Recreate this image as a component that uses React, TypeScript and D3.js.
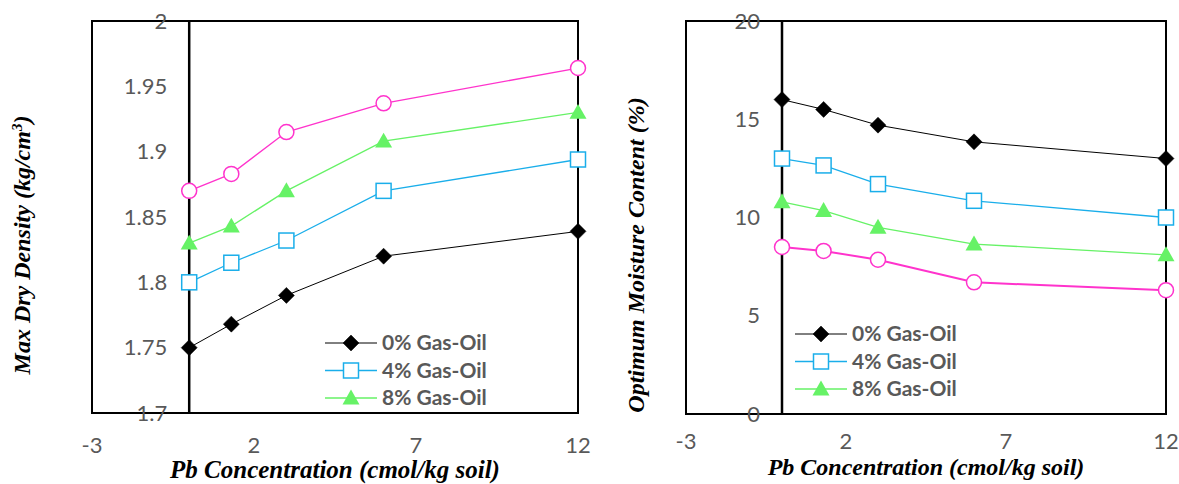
import React from "react";
import * as d3 from "d3";

const pbConcentration = [0, 1.3, 3, 6, 12];

const seriesNames = ["0% Gas-Oil", "4% Gas-Oil", "8% Gas-Oil", "12% Gas-Oil"];
const seriesColors = ["#000000", "#1AAEEA", "#66F266", "#FF33CC"];
const seriesMarkers = ["diamond", "square", "triangle", "circle"];
const legendSeries = [0, 1, 2];

// Max dry density (kg/cm3)
const mddValues = [
  [1.75, 1.768, 1.79, 1.82, 1.839],
  [1.8, 1.815, 1.832, 1.87, 1.894],
  [1.83, 1.843, 1.87, 1.908, 1.93],
  [1.87, 1.883, 1.915, 1.937, 1.964],
];

// Optimum moisture content (%)
const omcValues = [
  [16, 15.5, 14.7, 13.85, 13],
  [13, 12.65, 11.7, 10.85, 10],
  [10.8, 10.35, 9.5, 8.65, 8.1],
  [8.5, 8.3, 7.85, 6.7, 6.3],
];

const xTicks = [-3, 2, 7, 12];
const mddTicks = [1.7, 1.75, 1.8, 1.85, 1.9, 1.95, 2];
const omcTicks = [0, 5, 10, 15, 20];
const mddTickLabels = ["1.7", "1.75", "1.8", "1.85", "1.9", "1.95", "2"];
const omcTickLabels = ["0", "5", "10", "15", "20"];

const xTitle = "Pb Concentration (cmol/kg soil)";

type PanelProps = {
  left: number;
  right: number;
  top: number;
  bottom: number;
  yDomain: [number, number];
  yTicks: number[];
  yTickLabels: string[];
  values: number[][];
  yTitle: React.ReactNode;
  yTitleX: number;
  yTitleY: number;
  xTickY: number;
  xTitleY: number;
  xTitleSize: number;
  legendX: number;
  legendY: number;
  magentaWidth: number;
};

function Marker({ type, x, y, color }: { type: string; x: number; y: number; color: string }) {
  if (type === "diamond") {
    const s = 8;
    return <path d={`M${x},${y - s}L${x + s},${y}L${x},${y + s}L${x - s},${y}Z`} fill={color} stroke={color} strokeWidth={0.5} />;
  }
  if (type === "square") {
    const s = 7.5;
    return <rect x={x - s} y={y - s} width={2 * s} height={2 * s} fill="#fff" stroke={color} strokeWidth={1.5} />;
  }
  if (type === "triangle") {
    const s = 8.5;
    return <path d={`M${x},${y - s}L${x + s},${y + s * 0.75}L${x - s},${y + s * 0.75}Z`} fill={color} />;
  }
  return <circle cx={x} cy={y} r={7.5} fill="#fff" stroke={color} strokeWidth={1.5} />;
}

function Panel(p: PanelProps) {
  const x = d3.scaleLinear().domain([-3, 12]).range([p.left, p.right]);
  const y = d3.scaleLinear().domain(p.yDomain).range([p.bottom, p.top]);
  const x0 = x(0);
  const tickFont = "Lato, 'Open Sans', sans-serif";
  const titleFont = "'Liberation Serif', 'Times New Roman', serif";
  const order = [3, 2, 1, 0];
  return (
    <g>
      <rect x={p.left} y={p.top} width={p.right - p.left} height={p.bottom - p.top} fill="none" stroke="#000" strokeWidth={2} />
      <line x1={x0} x2={x0} y1={p.top} y2={p.bottom} stroke="#000" strokeWidth={2.5} />
      {order.map((si) => {
        const line = d3
          .line<number>()
          .x((_, i) => x(pbConcentration[i]))
          .y((v) => y(v));
        return (
          <g key={si}>
            <path d={line(p.values[si]) || ""} fill="none" stroke={seriesColors[si]} strokeWidth={si === 3 ? p.magentaWidth : si === 0 ? 1 : 1.3} />
            {p.values[si].map((v, i) => (
              <Marker key={i} type={seriesMarkers[si]} x={x(pbConcentration[i])} y={y(v)} color={seriesColors[si]} />
            ))}
          </g>
        );
      })}
      {p.yTicks.map((t, i) => (
        <text key={t} x={x0 - 22} y={y(t)} dy="0.35em" textAnchor="end" fontFamily={tickFont} fontSize={22} fill="#595959">
          {p.yTickLabels[i]}
        </text>
      ))}
      {xTicks.map((t) => (
        <text key={t} x={x(t)} y={p.xTickY} dy="0.35em" textAnchor="middle" fontFamily={tickFont} fontSize={22} fill="#595959">
          {t}
        </text>
      ))}
      <text x={(p.left + p.right) / 2} y={p.xTitleY} textAnchor="middle" fontFamily={titleFont} fontWeight="bold" fontStyle="italic" fontSize={p.xTitleSize} fill="#000">
        {xTitle}
      </text>
      <text transform={`translate(${p.yTitleX},${p.yTitleY}) rotate(-90)`} textAnchor="middle" fontFamily={titleFont} fontWeight="bold" fontStyle="italic" fontSize={24} fill="#000" dy="0.35em">
        {p.yTitle}
      </text>
      {legendSeries.map((si, i) => {
        const ly = p.legendY + i * 27.5;
        return (
          <g key={si}>
            <line x1={p.legendX} x2={p.legendX + 52} y1={ly} y2={ly} stroke={seriesColors[si]} strokeWidth={si === 0 ? 1 : 1.3} />
            <Marker type={seriesMarkers[si]} x={p.legendX + 26} y={ly} color={seriesColors[si]} />
            <text x={p.legendX + 57} y={ly} dy="0.35em" fontFamily={tickFont} fontWeight="bold" fontSize={21} fill="#595959">
              {seriesNames[si]}
            </text>
          </g>
        );
      })}
    </g>
  );
}

export default function App() {
  return (
    <svg width={1179} height={484} style={{ position: "absolute", left: 0, top: 0, background: "#fff" }}>
      <rect width={1179} height={484} fill="#fff" />
      <Panel
        left={92}
        right={578}
        top={21}
        bottom={413}
        yDomain={[1.7, 2]}
        yTicks={mddTicks}
        yTickLabels={mddTickLabels}
        values={mddValues}
        yTitle={<>Max Dry Density (kg/cm<tspan baselineShift="super" fontSize={15}>3</tspan>)</>}
        yTitleX={22}
        yTitleY={245}
        xTickY={445}
        xTitleY={478}
        xTitleSize={25}
        legendX={325}
        legendY={343}
        magentaWidth={1.3}
      />
      <Panel
        left={686}
        right={1166}
        top={21}
        bottom={414}
        yDomain={[0, 20]}
        yTicks={omcTicks}
        yTickLabels={omcTickLabels}
        values={omcValues}
        yTitle={<>Optimum Moisture Content (%)</>}
        yTitleX={636}
        yTitleY={255}
        xTickY={441}
        xTitleY={475}
        xTitleSize={24}
        legendX={795}
        legendY={334}
        magentaWidth={2}
      />
    </svg>
  );
}
